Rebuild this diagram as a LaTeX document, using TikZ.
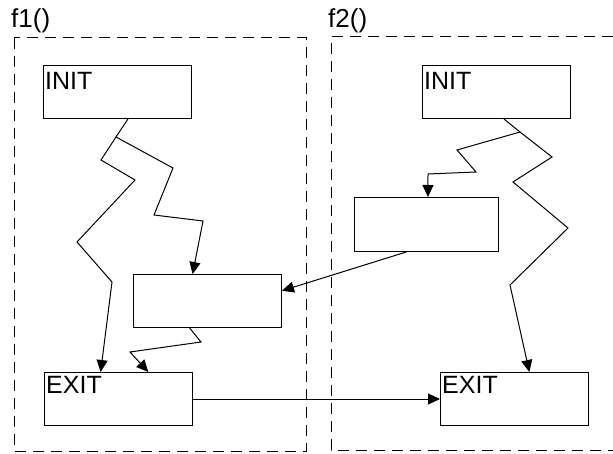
\documentclass[tikz,border=0pt]{standalone}
\usepackage{fontspec}
\setmainfont{Liberation Sans}
\usetikzlibrary{arrows.meta, calc}

\begin{document}
\begin{tikzpicture}[x=1pt, y=-1pt,
  fnbox/.style={draw, dash pattern=on 11pt off 7pt, line width=1pt},
  blk/.style={draw, line width=1pt, minimum width=148pt, minimum height=53pt,
              anchor=north west, inner sep=0pt},
  ttl/.style={font=\fontsize{25}{30}\selectfont, anchor=north west, inner sep=0pt},
  fn/.style={font=\fontsize{26}{31}\selectfont, anchor=base west, inner sep=0pt},
  wire/.style={line width=1pt},
  arr/.style={-{Triangle[length=12pt, width=11pt]}, line width=1pt}
]
\path[fill=white, use as bounding box] (0,0) rectangle (613,454);

% the two functions
\draw[fnbox] (14,38) rectangle (306,451);
\draw[fnbox] (613,37) -- (331,37) -- (331,450) -- (613,450);
\node[fn] (fA) at (11,28) {f1()};
\node[fn] (fB) at (328,28) {f2()};

% blocks
\node[blk] (initA) at (43,65) {};
\node[blk] (midA) at (133,274) {};
\node[blk] (exitA) at (44,372) {};
\node[blk] (initB) at (422,65) {};
\node[blk, minimum width=144pt, minimum height=54pt] (midB) at (354,197) {};
\node[blk] (exitB) at (440,372) {};
\node[ttl] (initAtxt) at ($(initA.north west)+(2,7)$) {INIT};
\node[ttl] (exitAtxt) at ($(exitA.north west)+(2,4)$) {EXIT};
\node[ttl] (initBtxt) at ($(initB.north west)+(2,7)$) {INIT};
\node[ttl] (exitBtxt) at ($(exitB.north west)+(2,4)$) {EXIT};

% f1 flow
\coordinate (forkA) at (116,137);
\draw[wire] ($(initA.south west)!.57!(initA.south east)$) -- (forkA);
\draw[arr] (forkA) -- (101,160) -- (135,180) -- (77,242) -- (112,282)
  -- ($(exitA.north west)!.38!(exitA.north east)$);
\draw[arr] (forkA) -- (173,168) -- (154,215) -- (203,221)
  -- ($(midA.north west)!.40!(midA.north east)$);
\draw[arr] ($(midA.south west)!.38!(midA.south east)$) -- (201,342) -- (130,352)
  -- ($(exitA.north west)!.70!(exitA.north east)$);

% f2 flow
\coordinate (forkB) at (520,132);
\draw[wire] ($(initB.south west)!.55!(initB.south east)$) -- (forkB);
\draw[arr] (forkB) -- (552,157) -- (513,182) -- (568,228) -- (510,285)
  -- ($(exitB.north west)!.60!(exitB.north east)$);
\draw[arr] (forkB) -- (457,150) -- (476,172) -- (428,174)
  -- ($(midB.north west)!.51!(midB.north east)$);

% between the functions
\draw[arr] ($(midB.south west)!.36!(midB.south east)$)
  -- ($(midA.north east)!.31!(midA.south east)$);
\draw[arr] (exitA.east) -- (exitB.west);
\end{tikzpicture}
\end{document}
